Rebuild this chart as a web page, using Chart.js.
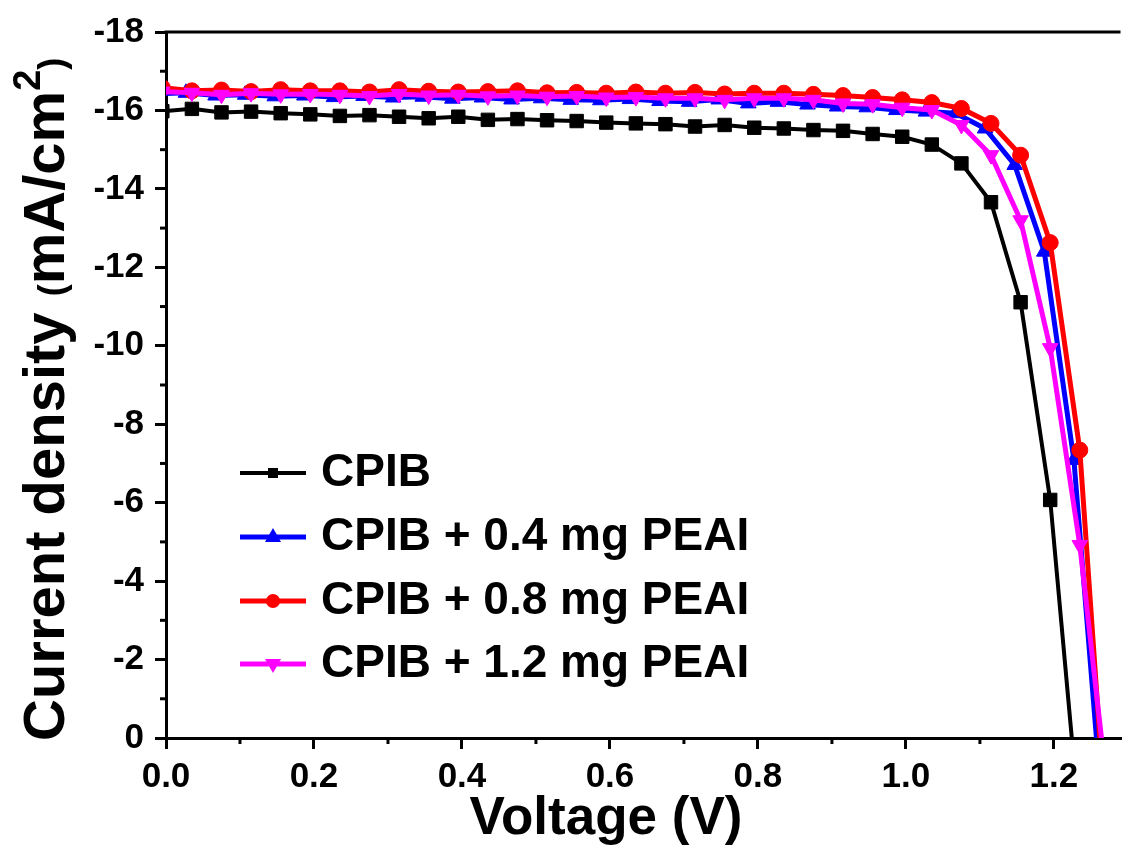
<!DOCTYPE html>
<html>
<head>
<meta charset="utf-8">
<script src="https://cdn.jsdelivr.net/npm/chart.js@4.4.1/dist/chart.umd.min.js"></script>
<style>
  html, body { margin: 0; padding: 0; background: #fff; }
</style>
</head>
<body>
<canvas id="jv-chart" width="1131" height="845"></canvas>
<script>
// Voltage points (V) - blue sample was measured on a slightly shifted grid
const voltage = [-0.005, 0.035, 0.075, 0.115, 0.155, 0.195, 0.235, 0.275, 0.315, 0.355, 0.395,
    0.435, 0.475, 0.515, 0.555, 0.595, 0.635, 0.675, 0.715, 0.755, 0.795, 0.835, 0.875, 0.915,
    0.955, 0.995, 1.035, 1.075, 1.115, 1.155, 1.195, 1.235, 1.275];
const voltageBlue = [-0.013, 0.027, 0.067, 0.107, 0.147, 0.187, 0.227, 0.267, 0.307, 0.347, 0.387,
    0.427, 0.467, 0.507, 0.547, 0.587, 0.627, 0.667, 0.707, 0.747, 0.787, 0.827, 0.867, 0.907,
    0.947, 0.987, 1.027, 1.067, 1.107, 1.147, 1.187, 1.227, 1.267];

// Current density (mA/cm2)
const cpib = [-15.98, -16.04, -15.95, -15.97, -15.93, -15.90, -15.86, -15.88, -15.84, -15.80, -15.84,
    -15.76, -15.78, -15.75, -15.73, -15.69, -15.67, -15.65, -15.59, -15.63, -15.56, -15.54, -15.50,
    -15.48, -15.40, -15.33, -15.13, -14.65, -13.66, -11.11, -6.07, 2.25];
const peai04 = [-16.42, -16.45, -16.38, -16.40, -16.36, -16.38, -16.34, -16.37, -16.33, -16.35, -16.30,
    -16.33, -16.28, -16.31, -16.27, -16.26, -16.29, -16.24, -16.22, -16.28, -16.18, -16.22, -16.15,
    -16.10, -16.08, -16.01, -15.97, -15.93, -15.54, -14.61, -12.40, -7.09, 2.2];
const peai08 = [-16.58, -16.50, -16.52, -16.48, -16.53, -16.50, -16.50, -16.47, -16.53, -16.49, -16.47,
    -16.48, -16.50, -16.45, -16.46, -16.44, -16.47, -16.44, -16.46, -16.42, -16.44, -16.44, -16.41,
    -16.38, -16.33, -16.27, -16.20, -16.05, -15.67, -14.86, -12.63, -7.34, 3.5];
const peai12 = [-16.48, -16.45, -16.40, -16.44, -16.41, -16.42, -16.40, -16.37, -16.42, -16.38, -16.40,
    -16.36, -16.38, -16.35, -16.37, -16.33, -16.34, -16.31, -16.31, -16.27, -16.31, -16.31, -16.27,
    -16.18, -16.16, -16.07, -16.01, -15.63, -14.86, -13.2, -9.94, -4.92, 1.8];

const seriesNames = ['CPIB', 'CPIB + 0.4 mg PEAI', 'CPIB + 0.8 mg PEAI', 'CPIB + 1.2 mg PEAI'];

const xTickValues = [0, 0.2, 0.4, 0.6, 0.8, 1.0, 1.2];
const xTickLabels = ['0.0', '0.2', '0.4', '0.6', '0.8', '1.0', '1.2'];
const xMinorTicks = [0.1, 0.3, 0.5, 0.7, 0.9, 1.1];
const yTickValues = [0, -2, -4, -6, -8, -10, -12, -14, -16, -18];
const yTickLabels = ['0', '-2', '-4', '-6', '-8', '-10', '-12', '-14', '-16', '-18'];
const yMinorTicks = [-1, -3, -5, -7, -9, -11, -13, -15, -17];

const FONT = "'Liberation Sans', Arial, sans-serif";

function toPoints(xs, ys) {
    return ys.map((y, i) => ({ x: xs[i], y: y }));
}

function makeSet(label, xs, ys, color, style, radius, rotation, width, order) {
    return {
        label: label,
        data: toPoints(xs, ys),
        borderColor: color,
        backgroundColor: color,
        borderWidth: width,
        pointStyle: style,
        pointRadius: radius,
        pointRotation: rotation,
        pointBorderWidth: 1,
        pointBackgroundColor: color,
        pointBorderColor: color,
        tension: 0,
        clip: 0,
        order: order
    };
}

const datasets = [
    makeSet(seriesNames[0], voltage, cpib, '#000000', 'rect', 9.5, 0, 4, 3),
    makeSet(seriesNames[1], voltageBlue, peai04, '#0000ff', 'triangle', 9, 0, 5, 2),
    makeSet(seriesNames[2], voltage, peai08, '#ff0000', 'circle', 8, 0, 5, 1),
    makeSet(seriesNames[3], voltage, peai12, '#ff00ff', 'triangle', 9, 180, 5, 0)
];

// Draw a small legend marker the same way as the data markers
function drawMarker(ctx, style, rotation, cx, cy) {
    ctx.beginPath();
    if (style === 'rect') {
        ctx.rect(cx - 5, cy - 5, 10, 10);
    } else if (style === 'circle') {
        ctx.arc(cx, cy, 7, 0, Math.PI * 2);
    } else {
        const s = rotation === 180 ? -1 : 1;
        ctx.moveTo(cx, cy - 9 * s);
        ctx.lineTo(cx - 8, cy + 5 * s);
        ctx.lineTo(cx + 8, cy + 5 * s);
        ctx.closePath();
    }
    ctx.fill();
}

const extras = {
    id: 'extras',
    afterDraw(chart) {
        const ctx = chart.ctx;
        const area = chart.chartArea;
        const xs = chart.scales.x;
        const ys = chart.scales.y;
        ctx.save();
        ctx.strokeStyle = '#000';
        ctx.fillStyle = '#000';
        ctx.lineWidth = 3;

        // top frame line
        ctx.beginPath();
        ctx.moveTo(area.left - 1.5, area.top);
        ctx.lineTo(area.right, area.top);
        ctx.stroke();

        // minor ticks
        xMinorTicks.forEach(v => {
            const px = xs.getPixelForValue(v);
            ctx.beginPath();
            ctx.moveTo(px, area.bottom);
            ctx.lineTo(px, area.bottom + 6);
            ctx.stroke();
        });
        yMinorTicks.forEach(v => {
            const py = ys.getPixelForValue(v);
            ctx.beginPath();
            ctx.moveTo(area.left - 6, py);
            ctx.lineTo(area.left, py);
            ctx.stroke();
        });

        // x title
        ctx.font = 'bold 53px ' + FONT;
        ctx.textAlign = 'center';
        ctx.textBaseline = 'alphabetic';
        ctx.fillText('Voltage (V)', 606, 834);

        // y title, written bottom to top
        ctx.save();
        ctx.translate(64, 741);
        ctx.rotate(-Math.PI / 2);
        ctx.textAlign = 'left';
        const parts = [
            { t: 'Current density ', size: 58, dy: 0 },
            { t: '(', size: 36, dy: 0 },
            { t: 'mA/cm', size: 58, dy: 0 },
            { t: '2', size: 38, dy: -24 },
            { t: ')', size: 36, dy: 0 }
        ];
        let pos = 0;
        parts.forEach(p => {
            ctx.font = 'bold ' + p.size + 'px ' + FONT;
            ctx.fillText(p.t, pos, p.dy);
            pos += ctx.measureText(p.t).width;
        });
        ctx.restore();

        // legend
        const rows = [473, 537, 601, 664];
        chart.data.datasets.forEach((ds, i) => {
            const y = rows[i];
            ctx.strokeStyle = ds.borderColor;
            ctx.fillStyle = ds.borderColor;
            ctx.lineWidth = ds.borderWidth;
            ctx.beginPath();
            ctx.moveTo(240, y);
            ctx.lineTo(306, y);
            ctx.stroke();
            drawMarker(ctx, ds.pointStyle, ds.pointRotation, 273, y);
            ctx.fillStyle = '#000';
            ctx.font = 'bold 46px ' + FONT;
            ctx.textAlign = 'left';
            ctx.textBaseline = 'middle';
            ctx.fillText(ds.label, 321, y);
        });
        ctx.restore();
    }
};

new Chart(document.querySelector('#jv-chart').getContext('2d'), {
    type: 'line',
    data: { datasets: datasets },
    options: {
        responsive: false,
        animation: false,
        devicePixelRatio: 1,
        layout: { padding: { top: 32, right: 0, left: 0, bottom: 0 } },
        plugins: { legend: { display: false }, tooltip: { enabled: false } },
        scales: {
            x: {
                type: 'linear',
                min: 0,
                max: 1.29,
                afterFit: scale => { scale.height = 107; },
                afterBuildTicks: scale => { scale.ticks = xTickValues.map(v => ({ value: v })); },
                grid: { display: true, drawOnChartArea: false, drawTicks: true, tickLength: 11, lineWidth: 3, color: '#000' },
                border: { display: true, width: 3, color: '#000' },
                ticks: {
                    padding: 7,
                    color: '#000',
                    maxRotation: 0,
                    autoSkip: false,
                    font: { family: FONT, size: 35, weight: 'bold' },
                    callback: v => xTickLabels[xTickValues.indexOf(v)]
                }
            },
            y: {
                type: 'linear',
                min: -18,
                max: 0,
                reverse: true,
                afterFit: scale => { scale.width = 166; },
                afterBuildTicks: scale => { scale.ticks = yTickValues.map(v => ({ value: v })); },
                grid: { display: true, drawOnChartArea: false, drawTicks: true, tickLength: 11, lineWidth: 3, color: '#000' },
                border: { display: true, width: 3, color: '#000' },
                ticks: {
                    padding: 11,
                    color: '#000',
                    autoSkip: false,
                    font: { family: FONT, size: 35, weight: 'bold' },
                    callback: v => yTickLabels[yTickValues.indexOf(v)]
                }
            }
        }
    },
    plugins: [extras]
});
</script>
</body>
</html>
